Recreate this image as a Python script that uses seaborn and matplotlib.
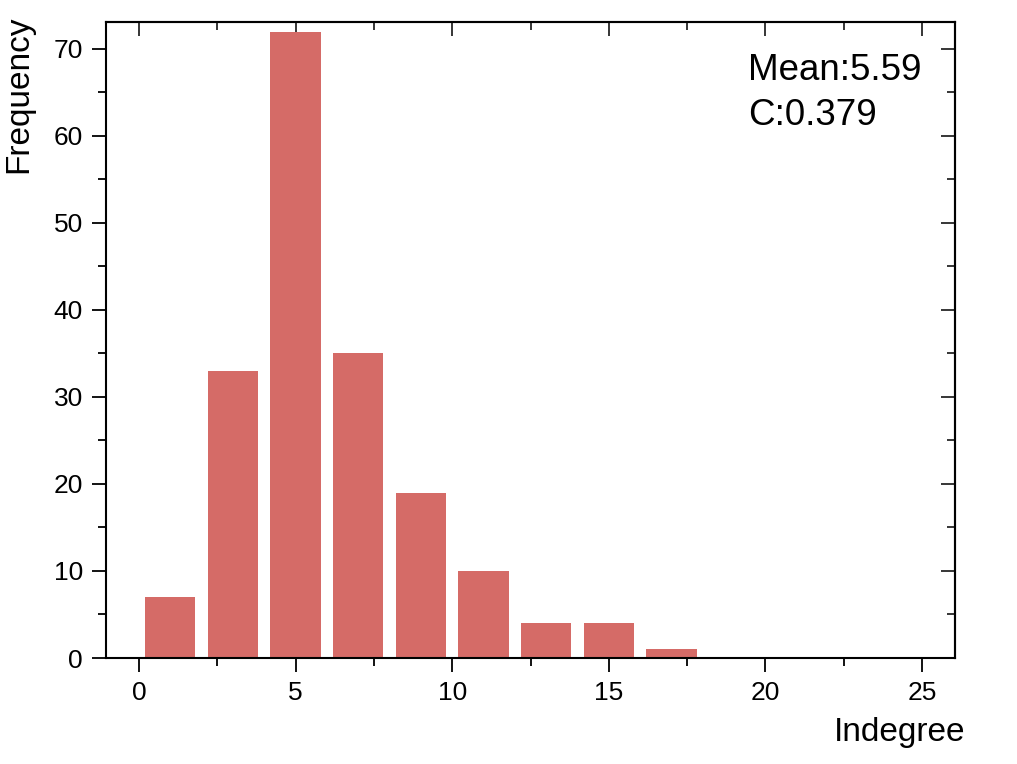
import numpy as np
import matplotlib
matplotlib.use('Agg')
import matplotlib.pyplot as plt
from matplotlib.ticker import MultipleLocator
import seaborn as sns

bin_centers = [1, 3, 5, 7, 9, 11, 13, 15, 17]
frequency = [7, 33, 72, 35, 19, 10, 4, 4, 1]
bin_edges = [0, 2, 4, 6, 8, 10, 12, 14, 16, 18]
stats_text = ["Mean:5.59", "C:0.379"]

sns.set_style('ticks')
plt.rcParams['font.family'] = ['Liberation Sans', 'DejaVu Sans']
plt.rcParams['text.color'] = 'black'
plt.rcParams['axes.labelcolor'] = 'black'

fig = plt.figure(figsize=(10.17, 7.64), dpi=100)
ax = fig.add_axes([106 / 1017, 1 - 658 / 764, 849 / 1017, 636 / 764])

sns.histplot(x=bin_centers, weights=frequency, bins=bin_edges, shrink=0.8,
             color='#D56B67', alpha=1, linewidth=0, ax=ax)

ax.set_xlim(-1.05, 26.05)
ax.set_ylim(0, 73.1)

ax.xaxis.set_major_locator(MultipleLocator(5))
ax.xaxis.set_minor_locator(MultipleLocator(2.5))
ax.yaxis.set_major_locator(MultipleLocator(10))
ax.yaxis.set_minor_locator(MultipleLocator(5))

for s in ax.spines.values():
    s.set_linewidth(1.5)
    s.set_color('black')

ax.tick_params(which='both', direction='out', width=1.3, colors='black',
               labelsize=19)
ax.tick_params(which='major', length=10, pad=6.5)
ax.tick_params(which='minor', length=5.5)

# ticks internos arriba y a la derecha
axt = ax.secondary_xaxis('top')
axt.xaxis.set_major_locator(MultipleLocator(5))
axt.xaxis.set_minor_locator(MultipleLocator(2.5))
axt.tick_params(which='both', direction='in', width=1.3, labeltop=False)
axt.tick_params(which='major', length=10)
axt.tick_params(which='minor', length=5.5)
axt.spines['top'].set_linewidth(1.5)

axr = ax.secondary_yaxis('right')
axr.yaxis.set_major_locator(MultipleLocator(10))
axr.yaxis.set_minor_locator(MultipleLocator(5))
axr.tick_params(which='both', direction='in', width=1.3, labelright=False)
axr.tick_params(which='major', length=10)
axr.tick_params(which='minor', length=5.5)
axr.spines['right'].set_linewidth(1.5)

ax.set_xlabel('Indegree', fontsize=24, ha='right', color='black')
ax.xaxis.set_label_coords(1.012, -0.092)
ax.set_ylabel('Frequency', fontsize=24, ha='right', color='black')
ax.yaxis.set_label_coords(-0.085, 1.011)

ax.text(0.756, 0.952, "\n".join(stats_text), transform=ax.transAxes,
        fontsize=26.5, ha='left', va='top', linespacing=1.4, color='black')

fig.savefig('out.png', dpi=100, facecolor='white')
